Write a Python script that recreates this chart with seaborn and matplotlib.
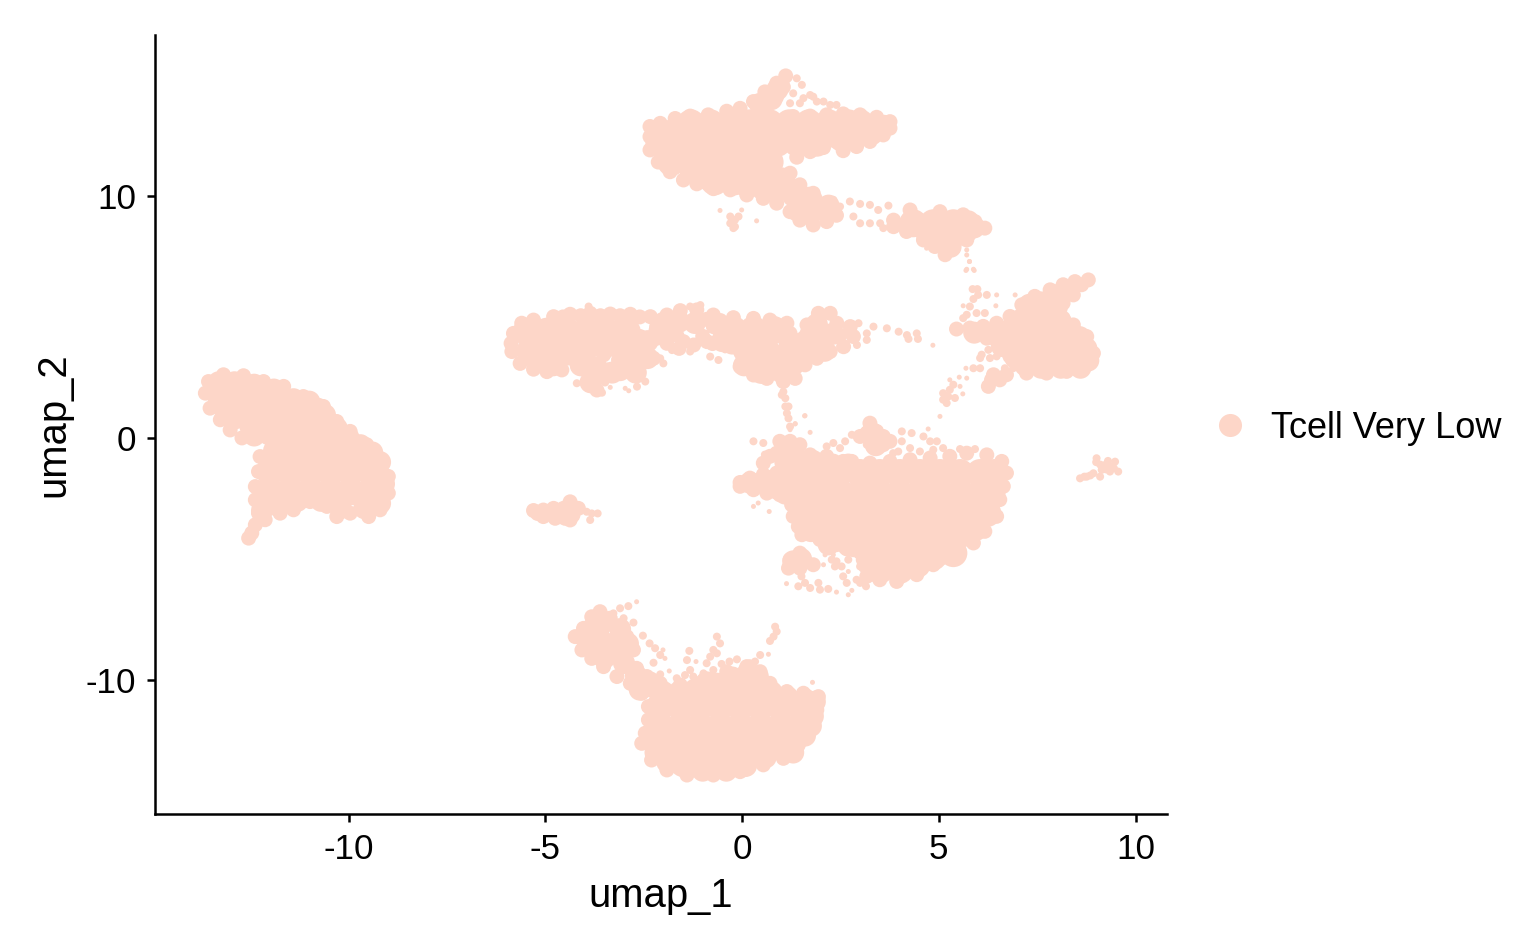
import pandas as pd
import matplotlib
matplotlib.use('Agg')
import matplotlib.pyplot as plt
from matplotlib.lines import Line2D
import seaborn as sns

# values, one list per island and per dot size
top_core = [(-1.3,13.0),(-0.8,13.0),(-0.3,13.0),(0.2,13.0),(0.7,13.0),(1.2,13.0),(1.7,13.0),(2.2,13.0),(2.7,13.0),(3.0,13.0),
            (-2.1,12.2),(-1.6,12.2),(-1.1,12.2),(-0.6,12.2),(-0.1,12.2),(0.4,12.2),(0.9,12.2),(1.4,12.2),(1.9,12.2),
            (-1.8,11.4),(-1.3,11.4),(-0.8,11.4),(-0.3,11.4),(0.2,11.4),(0.7,11.4),
            (-0.7,10.6),(-0.2,10.6),(0.3,10.6),(0.8,10.6),(1.0,10.6),(1.7,9.8),
            (4.35,8.87),(4.86,8.87),(5.37,8.87)]
top_fill = [(-1.3,11.0),(-0.9,10.7),(3.35,12.9),(3.6,12.9),(3.3,12.55),(2.9,12.4),(2.5,12.3),(2.4,12.55),(0.75,14.0),(0.45,13.8),
            (0.9,14.4),(1.3,10.0),(1.7,9.3),(2.1,9.4),(1.4,9.4),(2.2,9.6),(0.9,10.2),(0.5,10.3),(0.1,10.4),(-0.3,10.5),
            (4.7,8.4),(5.1,8.1),(5.4,8.3),(5.3,7.9),(5.7,8.5),(5.9,8.7),(5.75,8.95),(-2.0,12.7),(-1.7,12.8)]
top_mid = [(-2.34,12.45),(-2.34,12.87),(-2.08,13.0),(-1.7,13.2),(-1.32,13.3),(-0.86,13.35),(-0.39,13.5),(-0.05,13.62),
           (0.29,13.9),(0.58,14.3),(0.88,14.66),(1.11,14.96),(1.05,14.5),(0.88,14.1),(0.63,13.83),(0.46,13.55),
           (1.3,13.28),(1.73,13.3),(2.15,13.35),(2.57,13.39),(3.0,13.35),(3.42,13.25),(3.76,13.07),(3.76,12.8),
           (3.59,12.52),(3.25,12.25),(2.91,12.04),(2.57,11.87),(2.83,12.87),(3.25,12.87),(2.32,12.3),(2.74,12.38),
           (2.07,12.0),(1.73,11.83),(1.39,11.6),(1.8,12.05),(1.4,11.9),(1.22,10.94),(1.47,10.46),(1.81,10.11),(2.15,9.7),(2.4,9.2),
           (2.15,8.94),(1.81,8.8),(1.47,9.0),(1.22,9.35),(0.88,9.7),(0.54,9.9),(0.12,10.04),(-0.3,10.25),(-0.73,10.3),
           (-1.15,10.5),(-1.49,10.66),(-1.83,11.0),(-2.13,11.4),(-2.34,11.9),(1.64,9.42),(1.98,9.3),
           (3.85,9.0),(3.85,8.73),(4.18,8.53),(4.61,8.18),(4.9,7.91),(5.16,7.57),(5.37,7.84),(5.71,8.18),(5.88,8.6),
           (6.17,8.67),(5.92,8.94),(5.62,9.22),(5.03,9.35),(4.27,9.42),(5.03,8.32)]
top_fine = [(2.74,9.77),(3.0,9.67),(3.25,9.63),(3.46,9.42),(3.0,8.87),(3.25,8.87),(3.51,8.87),(2.83,9.15),(2.49,9.56),
            (2.32,9.84),(3.72,9.6),(3.59,8.67),(1.3,14.24),(1.52,14.59),(1.39,14.86),(1.73,14.17),(1.9,13.9),(2.07,13.9),
            (2.4,13.76),(1.22,13.83),(1.47,13.83),(1.13,14.8),(1.56,14.04),(1.81,14.1),(2.24,13.76),
            (-0.3,9.15),(-0.18,9.01),(-0.18,8.73),(-0.09,9.15),(-0.3,8.87),(-0.22,8.67)]
top_dot = [(-0.56,9.4),(-0.01,9.42),(0.37,8.97),(5.71,7.77),(5.71,7.56),(5.78,7.29),(5.71,6.97),(5.88,6.97),(4.69,7.84)]

mid_core = [(-5.47,4.39),(-4.96,4.39),(-4.45,4.39),(-3.94,4.39),(-3.44,4.39),(-2.93,4.39),
            (-5.38,3.57),(-4.88,3.57),(-4.37,3.57),
            (-0.22,4.46),(0.29,4.46),(0.8,4.46),(0.12,3.64),(0.59,3.64),(0.5,2.81),(1.05,2.81)]
mid_fill = [(-3.9,3.7),(-3.5,3.7),(-3.1,3.8),(-2.7,3.75),(-2.4,4.0),(-2.1,4.4),(-2.0,4.75),(-1.6,4.8),(-1.2,4.75),
            (-4.1,3.0),(-4.8,3.0),(-5.2,3.2),(-3.7,2.9),(-3.3,2.7),(-2.9,3.1),(-3.85,2.3),(-3.1,2.8),(-2.7,2.7),(-2.4,3.3),(-2.8,3.2),
            (-0.5,4.0),(-0.25,3.9),(0.05,3.0),(1.1,3.5),(1.2,4.0),(1.5,3.9),(1.35,3.2),(1.9,4.2),(2.3,4.3),(1.7,3.6),(2.1,3.6),(1.9,4.7)]
mid_mid = [(-5.87,3.91),(-5.81,4.32),(-5.6,4.74),(-5.3,4.87),(-5.85,3.57),(-5.64,3.08),(-5.3,2.84),(-4.96,2.74),(-4.58,2.81),
           (-4.79,5.01),(-4.37,5.11),(-3.86,5.15),(-3.35,5.12),(-2.84,5.11),(-2.33,5.01),(-1.91,5.08),(-1.57,5.26),(-1.15,5.29),
           (-0.73,5.08),(-0.22,4.97),(0.29,4.94),(0.71,4.87),(1.14,4.74),(1.65,4.67),(1.94,5.15),(2.24,5.15),(2.41,4.74),
           (2.75,4.6),(2.83,4.19),(2.58,3.77),(2.24,3.57),(1.9,3.29),(1.6,3.02),
           (-2.17,4.6),(-1.66,4.74),(-0.73,4.6),(-0.56,4.19),(-2.17,4.12),(-2.59,4.19),(-1.66,4.25),(-1.15,4.67),(-0.89,3.98),
           (-2.76,3.64),(-3.18,3.64),(-3.52,3.43),(-3.44,2.81),(-3.01,2.81),(-2.67,2.67),(-3.86,2.19),(-3.69,1.98),(-3.6,2.53),
           (-3.14,3.22),(-2.67,3.22),(-2.25,3.29),(-1.91,3.91),(-1.23,3.84),(-1.49,3.98),
           (1.22,4.32),(1.65,4.32),(2.07,4.46),(2.49,4.25),(2.07,3.91),(1.56,4.12),(1.39,2.95),(1.35,2.46),(1.05,2.33),
           (0.63,2.46),(0.29,2.6),(-0.05,2.95),
           (-4.55,5.0),(-4.1,5.05),(-3.6,5.05),(-3.1,5.05),(-2.6,5.0),
           (-0.9,4.9),(-0.55,4.85),(-1.6,3.7),(-1.0,4.2),(-1.9,4.4),(-0.75,3.9)]
mid_fine = [(3.34,4.6),(3.68,4.53),(3.98,4.39),(4.19,4.25),(4.44,4.32),(4.23,4.09),(4.47,4.09),(2.96,4.74),(3.17,4.32),(2.92,3.84),
            (3.17,4.05),(1.05,1.91),(1.01,1.78),(1.1,1.64),(1.1,1.3),(1.18,1.3),(1.14,1.02),(1.18,0.81),(1.22,0.47),
            (-0.81,3.36),(-0.6,3.22),(-0.43,3.66),(-1.32,3.57),(-1.78,3.63),(-2.0,3.08),(-2.08,3.29),(-2.46,2.33),(-2.67,2.12),
            (-3.48,2.29),(-3.56,1.87),(-3.9,5.43),(-1.06,5.49),(-1.32,5.43),(-4.2,2.26)]
mid_dot = [(4.85,3.83),(1.35,0.58),(1.59,0.91),(-2.97,2.05),(-2.88,1.95),(-3.35,2.09)]

right_core = [(7.49,3.23),(8.0,3.23),(8.5,3.23),(7.06,4.05),(7.57,4.05),(8.08,4.05),(8.55,4.05),(7.36,5.02),(7.83,5.02)]
right_fill = [(6.3,4.3),(6.7,4.4),(6.6,3.8),(6.95,3.3),(7.1,4.9),(7.6,5.6),(8.0,5.9),(8.3,6.1),(7.3,5.5),(8.1,4.8),(8.3,4.4),
              (8.75,3.7),(8.8,3.2),(8.6,2.9),(8.1,2.9),(7.6,2.9),(7.2,3.0),(8.0,5.4),(5.9,4.35)]
right_mid = [(5.45,4.5),(5.79,4.54),(6.13,4.61),(6.47,4.74),(6.81,5.02),(7.11,5.5),(7.44,5.85),(7.83,6.12),(8.16,6.33),(8.46,6.46),
             (8.8,6.53),(8.63,6.33),(8.42,5.91),(8.16,5.57),(7.91,5.85),(7.57,5.5),(8.16,4.95),(8.42,4.67),(8.76,4.19),(8.93,3.5),
             (8.67,3.02),(8.25,2.75),(7.74,2.68),(7.23,2.68),(7.11,3.09),(5.88,4.26),(6.22,4.12),(6.55,4.05),(6.81,3.37),
             (6.39,2.61),(6.72,2.61),(6.34,2.4),(6.26,2.13),(6.55,2.4)]
right_fine = [(5.86,6.15),(5.98,6.15),(6.0,5.91),(5.88,5.74),(6.22,5.91),(5.79,5.43),(5.96,5.16),(5.71,5.09),(5.62,4.95),(6.17,5.16),
              (6.26,3.64),(6.09,3.44),(6.3,3.3),(6.05,3.3),(6.47,3.37),(6.72,3.37),(6.89,2.88),(6.68,2.88),(5.88,2.88),(6.05,2.88),
              (5.37,2.2),(5.28,1.99),(5.24,1.71),(5.41,1.65),(5.2,1.44),(5.11,1.85),(5.11,1.58)]
right_dot = [(5.78,7.29),(5.69,6.92),(5.9,6.92),(6.47,5.91),(6.94,5.91),(6.45,5.46),(5.62,5.46),(5.69,2.88),(5.28,2.4),(5.52,2.51),
             (5.71,2.47),(5.54,2.13),(5.61,1.82),(5.03,0.89)]

low_core = [(3.0,-1.45),(3.5,-1.45),(4.01,-1.45),(4.52,-1.45),(5.03,-1.45),(5.54,-1.45),(6.05,-1.45),(6.43,-1.45),
            (1.47,-2.28),(1.98,-2.28),(2.49,-2.28),(3.0,-2.28),(3.5,-2.28),(4.01,-2.28),(4.52,-2.28),(5.03,-2.28),(5.54,-2.28),(6.05,-2.28),(6.34,-2.28),
            (1.64,-3.1),(2.15,-3.1),(2.66,-3.1),(3.17,-3.1),(3.68,-3.1),(4.19,-3.1),(4.7,-3.1),(5.21,-3.1),(5.72,-3.1),(6.23,-3.1),
            (2.07,-3.93),(2.58,-3.93),(3.08,-3.93),(3.59,-3.93),(4.1,-3.93),(4.61,-3.93),(5.11,-3.93),(5.62,-3.93),
            (3.42,-4.76),(3.93,-4.76),(4.44,-4.76),(4.95,-4.76),(5.37,-4.76),(3.5,-5.45),(4.01,-5.45)]
low_fill = [(2.5,-1.6),(2.0,-1.6),(1.5,-1.7),(1.0,-1.75),(0.6,-1.75),(0.2,-1.85),(0.9,-2.1),(1.1,-2.3),(1.2,-0.4),(1.4,-0.9),(1.1,-1.0),
            (1.8,-0.95),(2.3,-1.1),(2.7,-1.1),(5.95,-3.8),(4.5,-5.3),(4.9,-5.0),(3.2,-5.2),(1.75,-3.85),(2.2,-4.4),(2.7,-4.45),(3.05,-4.6),
            (1.5,-5.0),(1.3,-5.1),(3.3,0.2),(3.4,-0.3)]
low_mid = [(0.96,-0.14),(1.22,-0.14),(1.47,-0.28),(0.88,-0.63),(1.13,-0.63),(1.39,-0.76),(1.73,-0.7),(0.71,-0.76),(1.13,-1.04),(1.47,-1.18),
           (1.81,-1.04),(2.15,-0.76),(0.54,-1.04),(1.98,-1.32),(2.32,-1.18),(2.66,-1.32),(2.57,-0.97),
           (-0.05,-1.84),(0.2,-1.66),(0.54,-1.52),(0.88,-1.45),(1.3,-1.45),(1.73,-1.59),(2.24,-1.59),(2.57,-1.59),(-0.05,-2.0),(0.29,-2.14),
           (0.63,-2.28),(0.96,-2.35),(0.29,-1.87),(0.63,-1.87),(0.96,-1.87),(1.3,-1.87),(1.26,-2.76),(1.3,-3.24),(1.43,-3.66),(1.52,-4.0),
           (1.98,-4.2),(2.4,-4.41),(2.83,-4.62),(3.08,-5.03),(3.17,-5.72),(3.5,-5.86),(3.93,-5.93),(4.44,-5.65),(4.86,-5.24),(5.37,-4.83),
           (5.88,-4.34),(6.17,-3.86),(6.47,-3.24),(6.55,-2.55),(6.64,-2.0),(6.72,-1.45),(6.6,-0.97),(6.22,-0.7),(5.71,-0.63),(5.28,-0.76),
           (4.78,-0.83),(4.27,-0.9),(3.76,-0.97),(3.25,-1.04),(2.79,-0.97),
           (3.25,0.61),(3.42,0.27),(3.17,0.2),(3.59,0.06),(3.76,-0.14),(3.0,0.06),(3.59,-0.28),
           (1.47,-4.76),(1.22,-5.03),(1.56,-5.1),(1.18,-5.38),(1.81,-5.24),(1.47,-5.38)]
low_fine = [(2.79,0.13),(2.62,-0.14),(2.49,-0.42),(2.32,-0.21),(2.15,-0.35),(3.17,-0.28),(3.84,-0.63),(4.06,0.27),(4.31,0.2),(4.61,0.06),
            (4.78,-0.14),(4.95,-0.14),(4.27,-0.42),(4.52,-0.56),(4.86,-0.49),(5.11,-0.42),(5.54,-0.46),(5.92,-0.46),(4.06,-0.14),(3.97,-0.56),
            (0.29,-0.14),(0.54,-0.21),(0.58,-0.69),(1.43,-6.13),(1.73,-6.2),(1.98,-6.27),(2.19,-6.24),(1.94,-5.99),(1.51,-5.72),(1.6,-5.99),
            (2.28,-5.03),(2.4,-5.1),(2.36,-5.31),(2.53,-5.31),(2.62,-4.69),(2.7,-5.03),(2.57,-5.72),(2.66,-5.99),(2.91,-5.86),(3.0,-5.31),(3.0,-5.99),(3.15,-6.13)]
low_dot = [(1.73,0.23),(1.6,0.92),(1.35,0.59),(1.22,0.34),(0.69,-3.04),(0.29,-2.83),(0.41,-2.69),(4.73,0.37),(1.13,-6.02),(2.11,-4.83),
           (2.32,-4.83),(2.07,-5.24),(2.7,-5.52),(2.79,-6.3),(2.7,-6.48),(2.4,-6.37)]

far_fine = [(9.01,-0.84),(9.22,-1.12),(9.48,-0.98),(9.56,-1.39),(9.35,-1.39),(9.1,-1.6),(9.14,-1.32),(8.93,-1.46),(8.76,-1.6),(8.59,-1.67),(9.39,-1.19),
            (9.25,-1.3),(9.3,-0.95),(9.0,-1.0),(9.45,-1.25),(9.1,-1.1),(8.7,-1.6),(8.85,-1.55)]
small_mid = [(-5.3,-3.0),(-5.05,-2.98),(-5.05,-3.25),(-4.79,-2.91),(-4.75,-3.32),(-4.54,-2.91),(-4.5,-3.32),(-4.37,-2.64),(-4.28,-2.98),(-4.37,-3.39),(-4.16,-2.91),
             (-5.2,-3.12),(-4.9,-3.1),(-4.6,-3.1),(-4.3,-3.2)]
small_fine = [(-3.95,-3.05),(-3.82,-3.12),(-3.67,-3.12),(-3.86,-3.39)]

bot_core = [(-2.08,-11.1),(-1.57,-11.1),(-1.07,-11.1),(-0.56,-11.1),(-0.05,-11.1),(0.46,-11.1),(0.97,-11.1),(1.47,-11.1),(1.69,-11.1),
            (-2.08,-11.93),(-1.57,-11.93),(-1.07,-11.93),(-0.56,-11.93),(-0.05,-11.93),(0.46,-11.93),(0.97,-11.93),(1.47,-11.93),
            (-2.0,-12.76),(-1.49,-12.76),(-0.99,-12.76),(-0.48,-12.76),(0.03,-12.76),(0.54,-12.76),(1.05,-12.76),
            (-1.49,-13.44),(-0.98,-13.44),(-0.47,-13.44),(0.03,-13.44),(-0.64,-10.28),(-0.13,-10.28),(0.37,-10.28),
            (-3.73,-7.94),(-3.44,-8.63)]
bot_fill = [(-4.0,-8.2),(-3.5,-7.6),(-3.9,-8.6),(-3.5,-9.1),(-3.1,-8.7),(-3.0,-9.3),(-2.7,-9.8),(-2.35,-10.1),(-2.9,-8.5),(-3.1,-7.9),(-2.6,-10.4),
            (-2.0,-10.5),(-1.6,-10.5),(-1.2,-10.4),(-0.9,-10.1),(0.75,-10.5),(1.15,-10.7),(1.6,-10.8),(1.85,-10.9),(0.4,-9.85),(0.15,-9.7),(-0.25,-9.9),
            (1.8,-11.5),(1.75,-11.9),(1.6,-12.3),(1.3,-13.0),(0.6,-13.2),(-2.2,-13.0),(-1.9,-13.4),(-2.2,-12.4),(-0.4,-13.75),(-1.0,-13.75),(0.1,-13.55)]
bot_mid = [(-4.24,-8.21),(-4.03,-7.87),(-3.82,-7.39),(-3.61,-7.18),(-3.35,-7.45),(-4.07,-8.76),(-3.82,-9.11),(-3.52,-9.45),(-3.18,-9.86),
           (-2.84,-10.14),(-2.55,-10.55),(-2.93,-8.21),(-2.76,-8.76),(-3.1,-9.18),(-2.68,-9.52),(-2.42,-9.86),(-2.08,-10.14),(-2.34,-10.41),
           (-2.38,-11.1),(-2.38,-11.65),(-2.46,-12.2),(-2.55,-12.62),(-2.3,-13.31),(-1.91,-13.72),(-1.4,-13.93),(-0.73,-13.93),(-0.05,-13.79),
           (0.54,-13.51),(1.05,-13.24),(1.43,-12.69),(1.73,-12.07),(1.9,-11.24),(1.94,-10.69),(1.56,-10.55),(1.14,-10.48),(0.71,-10.14),
           (0.46,-9.66),(0.12,-9.45),(-0.39,-9.66),(-1.07,-10.14),(-1.57,-10.21)]
bot_fine = [(-3.1,-7.04),(-2.89,-6.95),(-3.27,-7.25),(-3.01,-7.45),(-2.76,-7.63),(-2.52,-8.17),(-2.35,-8.49),(-2.21,-8.69),(-2.08,-8.97),
            (-2.25,-9.29),(-2.08,-9.77),(-1.66,-9.93),(-0.64,-8.21),(-0.56,-8.49),(-0.73,-8.76),(-0.81,-9.04),(-0.64,-8.9),(-0.9,-9.31),(-0.73,-9.59),
            (-1.34,-8.8),(-1.4,-9.18),(-1.32,-9.59),(-1.45,-9.8),(-1.24,-9.86),(-0.98,-9.73),(0.84,-7.8),(0.88,-8.0),(0.8,-8.21),(0.71,-8.39),
            (0.46,-8.97),(0.33,-9.24),(-0.13,-9.15),(-0.32,-9.24),(-0.52,-9.34),(0.46,-9.59),(0.2,-9.31)]
bot_dot = [(-2.68,-6.77),(-2.01,-8.76),(-1.96,-9.11),(-1.85,-9.63),(-1.17,-9.24),(0.67,-8.94),(1.79,-10.1)]

left_core = [(-13.18,1.92),(-12.67,1.92),(-12.16,1.92),(-12.84,1.09),(-12.33,1.09),(-11.82,1.09),(-11.32,1.09),(-10.81,1.09),
             (-12.0,0.27),(-11.49,0.27),(-10.98,0.27),(-10.47,0.27),(-11.82,-0.56),(-11.32,-0.56),(-10.81,-0.56),(-10.3,-0.56),(-9.79,-0.56),
             (-12.0,-1.39),(-11.49,-1.39),(-10.98,-1.39),(-10.47,-1.39),(-9.96,-1.39),(-9.45,-1.39),(-9.37,-1.39),
             (-12.0,-2.21),(-11.49,-2.21),(-10.98,-2.21),(-10.47,-2.21),(-9.96,-2.21),(-9.45,-2.21),(-9.24,-2.21)]
left_fill = [(-13.3,2.3),(-13.3,1.5),(-13.2,1.3),(-12.9,2.3),(-12.4,2.2),(-11.9,2.0),(-11.7,1.7),(-11.4,1.6),(-11.0,1.5),(-10.6,0.95),(-10.3,0.4),
             (-10.0,0.0),(-9.7,-0.3),(-9.4,-0.6),(-9.2,-1.0),(-9.1,-1.9),(-9.2,-2.7),(-9.6,-2.9),(-10.2,-2.9),(-10.7,-2.6),(-11.3,-2.6),(-11.8,-2.8),
             (-12.2,-3.0),(-12.5,0.5),(-12.9,0.8),(-12.4,0.1)]
left_mid = [(-13.64,1.85),(-13.56,2.33),(-13.18,2.61),(-12.67,2.57),(-12.16,2.33),(-11.65,2.13),(-11.15,1.71),(-10.64,1.3),(-10.3,0.68),
            (-9.96,0.27),(-9.54,-0.28),(-9.2,-0.9),(-8.99,-1.59),(-8.99,-2.28),(-9.2,-2.97),(-9.49,-3.25),(-9.96,-3.11),(-10.3,-3.25),
            (-10.55,-2.83),(-10.98,-2.63),(-11.4,-2.97),(-11.74,-3.11),(-12.12,-3.38),(-12.37,-3.59),(-12.46,-3.93),(-12.54,-4.14),(-12.29,-3.11),
            (-12.37,-2.56),(-12.37,-2.01),(-12.29,-1.39),(-12.25,-0.77),(-12.71,0.0),(-13.01,0.33),(-13.26,0.75),(-13.52,1.23),(-11.91,-2.83)]

# dot diameter group -> marker area in pt^2
tier_sizes = {'core': 101.6, 'fill': 62.7, 'mid': 29.0, 'fine': 8.3, 'dot': 3.24}
tier_points = {
    'core': top_core + mid_core + right_core + low_core + bot_core + left_core,
    'fill': top_fill + mid_fill + right_fill + low_fill + bot_fill + left_fill,
    'mid': top_mid + mid_mid + right_mid + low_mid + small_mid + bot_mid + left_mid,
    'fine': top_fine + mid_fine + right_fine + low_fine + far_fine + small_fine + bot_fine,
    'dot': top_dot + mid_dot + right_dot + low_dot + bot_dot,
}
legend_label = 'Tcell Very Low'
point_color = '#FDD6C8'
x_ticks = [-10, -5, 0, 5, 10]
y_ticks = [-10, 0, 10]

rows = []
for tier, pts in tier_points.items():
    for px, py in pts:
        rows.append({'umap_1': px, 'umap_2': py, 'tier': tier})
df = pd.DataFrame(rows)

sns.set_style('ticks')
plt.rcParams['font.family'] = ['Liberation Sans', 'DejaVu Sans']
plt.rcParams['axes.unicode_minus'] = False

fig = plt.figure(figsize=(7.7, 4.755), dpi=200)
ax = fig.add_axes([155 / 1540, 137 / 951, 1012 / 1540, 779 / 951])
sns.scatterplot(data=df, x='umap_1', y='umap_2', size='tier', sizes=tier_sizes,
                color=point_color, linewidth=0, edgecolor='none', legend=False, ax=ax)

ax.set_xlim(-14.92, 10.8)
ax.set_ylim(-15.54, 16.65)
ax.set_xticks(x_ticks)
ax.set_yticks(y_ticks)
ax.tick_params(labelsize=12.6, length=2.9, width=0.9, color='black', labelcolor='black', pad=3.9)
ax.set_xlabel('umap_1', fontsize=14.4, color='black', labelpad=4)
ax.set_ylabel('umap_2', fontsize=14.4, color='black', labelpad=4.7)
for side in ['left', 'bottom']:
    ax.spines[side].set_linewidth(0.9)
    ax.spines[side].set_color('black')
sns.despine(ax=ax)

handle = Line2D([], [], marker='o', linestyle='none', color=point_color, markersize=8.3, markeredgewidth=0)
fig.legend(handles=[handle], labels=[legend_label], loc='center left', bbox_to_anchor=(1194 / 1540, 1 - 428 / 951),
           frameon=False, fontsize=13, labelcolor='black', handletextpad=0.14, borderaxespad=0, borderpad=0)

plt.savefig('out.png', dpi=200)
